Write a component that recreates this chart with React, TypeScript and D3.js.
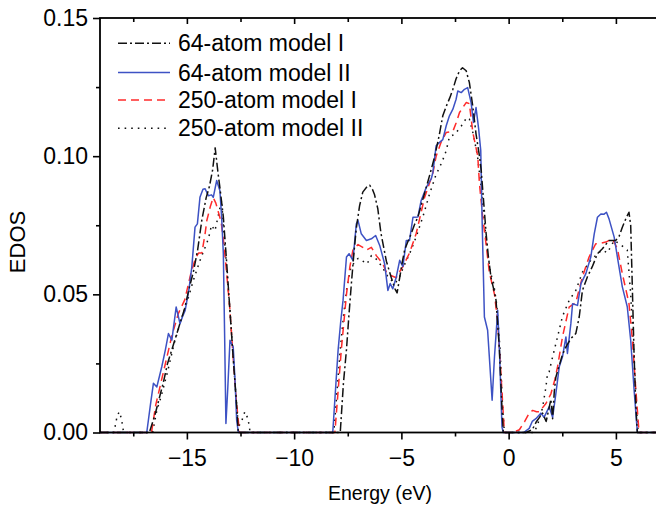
import React, { useEffect, useRef } from 'react';
import * as d3 from 'd3';

// energies in eV, EDOS values
const legendLabels = ['64-atom model I', '64-atom model II', '250-atom model I', '250-atom model II'];
const xMajorTicks = [-15, -10, -5, 0, 5];
const xMinorTicks = [-17.5, -12.5, -7.5, -2.5, 2.5];
const yMajorTicks = [0, 0.05, 0.1, 0.15];
const yMinorTicks = [0.025, 0.075, 0.125];

const model64I: [number, number][] = [
  [-19.05, 0], [-16.75, 0], [-16.5, 0.006], [-16.3, 0.012], [-16.1, 0.018], [-15.9, 0.025], [-15.7, 0.03],
  [-15.5, 0.035], [-15.3, 0.04], [-15.1, 0.045], [-14.9, 0.052], [-14.7, 0.058], [-14.5, 0.066], [-14.3, 0.077],
  [-14.1, 0.085], [-13.95, 0.089], [-13.8, 0.095], [-13.68, 0.103], [-13.55, 0.094], [-13.45, 0.088],
  [-13.3, 0.078], [-13.15, 0.062], [-13.0, 0.045], [-12.85, 0.028], [-12.7, 0.012], [-12.6, 0],
  [-7.85, 0], [-7.7, 0.018], [-7.56, 0.03], [-7.45, 0.042], [-7.33, 0.054], [-7.2, 0.066], [-7.1, 0.074],
  [-6.95, 0.082], [-6.8, 0.087], [-6.6, 0.089], [-6.48, 0.0895], [-6.35, 0.088], [-6.25, 0.086], [-6.1, 0.081],
  [-5.95, 0.072], [-5.8, 0.066], [-5.7, 0.062], [-5.47, 0.056], [-5.3, 0.052], [-5.2, 0.0505], [-5.08, 0.056],
  [-4.95, 0.062], [-4.85, 0.066], [-4.7, 0.069], [-4.54, 0.072], [-4.4, 0.075], [-4.23, 0.078], [-4.05, 0.083],
  [-3.84, 0.0887], [-3.65, 0.094], [-3.46, 0.0995], [-3.25, 0.107], [-3.07, 0.1146], [-2.91, 0.118],
  [-2.75, 0.121], [-2.6, 0.1242], [-2.45, 0.128], [-2.29, 0.1309], [-2.15, 0.132], [-1.98, 0.1309],
  [-1.83, 0.1266], [-1.67, 0.118], [-1.52, 0.108], [-1.36, 0.1], [-1.28, 0.095], [-1.15, 0.082], [-1.05, 0.072],
  [-0.95, 0.064], [-0.82, 0.056], [-0.7, 0.052], [-0.59, 0.048], [-0.5, 0.038], [-0.43, 0.03], [-0.33, 0.012],
  [-0.25, 0], [0.8, 0], [1.1, 0.001], [1.3, 0.004], [1.58, 0.007], [1.75, 0.004], [1.97, 0.012], [2.05, 0.005],
  [2.13, 0.015], [2.2, 0.02], [2.35, 0.024], [2.5, 0.028], [2.67, 0.031], [2.9, 0.034], [3.13, 0.0358],
  [3.29, 0.0418], [3.44, 0.0514], [3.67, 0.0563], [3.9, 0.06], [4.14, 0.0647], [4.37, 0.0665], [4.68, 0.0695],
  [4.99, 0.0695], [5.15, 0.071], [5.3, 0.0743], [5.5, 0.078], [5.61, 0.0797], [5.69, 0.075], [5.77, 0.0514],
  [5.85, 0.0274], [5.93, 0.0093], [6.0, 0], [7, 0],
];

const model64II: [number, number][] = [
  [-19.05, 0], [-16.87, 0], [-16.7, 0.01], [-16.56, 0.0178], [-16.4, 0.0165], [-16.17, 0.0238], [-16.0, 0.03],
  [-15.86, 0.0358], [-15.7, 0.0334], [-15.5, 0.0454], [-15.32, 0.0394], [-15.2, 0.042], [-15.08, 0.0442],
  [-14.9, 0.052], [-14.77, 0.0599], [-14.62, 0.0743], [-14.51, 0.0755], [-14.39, 0.0851], [-14.25, 0.088],
  [-14.15, 0.0882], [-14.0, 0.0857], [-13.85, 0.086], [-13.77, 0.0851], [-13.61, 0.0912], [-13.46, 0.0875],
  [-13.38, 0.078], [-13.3, 0.0647], [-13.24, 0.035], [-13.18, 0.0033], [-13.1, 0.015], [-12.99, 0.0334],
  [-12.84, 0.031], [-12.75, 0.018], [-12.68, 0.0045], [-12.6, 0],
  [-8.2, 0], [-8.05, 0.018], [-7.95, 0.0298], [-7.83, 0.04], [-7.72, 0.0478], [-7.56, 0.0635], [-7.44, 0.0647],
  [-7.26, 0.0623], [-7.1, 0.0755], [-7.02, 0.0767], [-6.87, 0.0719], [-6.63, 0.0695], [-6.4, 0.0701],
  [-6.2, 0.0713], [-6.01, 0.0677], [-5.78, 0.061], [-5.63, 0.0514], [-5.52, 0.0539], [-5.4, 0.052],
  [-5.24, 0.0562], [-5.08, 0.0623], [-4.93, 0.06], [-4.77, 0.0695], [-4.62, 0.0695], [-4.46, 0.0779],
  [-4.23, 0.078], [-4.08, 0.0839], [-3.84, 0.0887], [-3.6, 0.092], [-3.53, 0.0942], [-3.38, 0.1038],
  [-3.22, 0.105], [-3.07, 0.106], [-2.91, 0.111], [-2.76, 0.1146], [-2.6, 0.117], [-2.45, 0.1206],
  [-2.37, 0.1236], [-2.21, 0.123], [-2.06, 0.1242], [-1.91, 0.1248], [-1.75, 0.1194], [-1.64, 0.1122],
  [-1.52, 0.1176], [-1.4, 0.11], [-1.3, 0.102], [-1.24, 0.0779], [-1.13, 0.0418], [-0.98, 0.037],
  [-0.77, 0.0117], [-0.66, 0.0274], [-0.51, 0.0442], [-0.43, 0.03], [-0.31, 0.002], [-0.25, 0],
  [0.7, 0], [0.96, 0.0015], [1.1, 0.004], [1.27, 0.005], [1.5, 0.007], [1.65, 0.0055], [1.89, 0.0093],
  [2.05, 0.0055], [2.2, 0.014], [2.36, 0.0238], [2.51, 0.0274], [2.67, 0.0346], [2.74, 0.0286], [2.9, 0.0394],
  [2.98, 0.0466], [3.21, 0.046], [3.37, 0.0539], [3.6, 0.0575], [3.83, 0.0635], [3.99, 0.0719], [4.14, 0.0779],
  [4.3, 0.0791], [4.45, 0.079], [4.56, 0.0797], [4.68, 0.0773], [4.92, 0.0707], [5.07, 0.0635], [5.3, 0.0527],
  [5.53, 0.0455], [5.69, 0.0334], [5.85, 0.0153], [6.0, 0], [7, 0],
];

const model250I: [number, number][] = [
  [-19.05, 0], [-16.65, 0], [-16.45, 0.01], [-16.3, 0.015], [-16.0, 0.025], [-15.7, 0.035], [-15.4, 0.043],
  [-15.1, 0.048], [-14.8, 0.058], [-14.6, 0.063], [-14.45, 0.065], [-14.3, 0.065], [-14.15, 0.072],
  [-14.07, 0.0767], [-13.9, 0.082], [-13.77, 0.085], [-13.65, 0.083], [-13.54, 0.08], [-13.4, 0.076],
  [-13.3, 0.07], [-13.15, 0.058], [-13.0, 0.045], [-12.85, 0.028], [-12.7, 0.012], [-12.55, 0],
  [-8.1, 0], [-7.95, 0.015], [-7.8, 0.03], [-7.68, 0.04], [-7.56, 0.05], [-7.4, 0.06], [-7.26, 0.066],
  [-7.02, 0.068], [-6.8, 0.067], [-6.63, 0.066], [-6.4, 0.067], [-6.17, 0.064], [-5.86, 0.061], [-5.7, 0.058],
  [-5.55, 0.057], [-5.24, 0.056], [-5.1, 0.058], [-4.93, 0.06], [-4.62, 0.065], [-4.31, 0.072], [-4.1, 0.079],
  [-3.92, 0.085], [-3.7, 0.09], [-3.53, 0.094], [-3.38, 0.1], [-3.15, 0.105], [-2.91, 0.1086], [-2.6, 0.109],
  [-2.45, 0.112], [-2.29, 0.1158], [-2.1, 0.118], [-1.98, 0.1194], [-1.83, 0.119], [-1.67, 0.1086],
  [-1.44, 0.1], [-1.36, 0.09], [-1.21, 0.078], [-1.05, 0.068], [-0.9, 0.058], [-0.66, 0.05], [-0.51, 0.04],
  [-0.35, 0.02], [-0.2, 0], [0.2, 0], [0.5, 0.001], [0.75, 0.004], [0.96, 0.007], [1.12, 0.008], [1.3, 0.0075],
  [1.43, 0.0075], [1.74, 0.0105], [1.97, 0.014], [2.15, 0.019], [2.28, 0.0238], [2.51, 0.0346], [2.82, 0.0454],
  [3.13, 0.047], [3.44, 0.0563], [3.75, 0.0635], [4.06, 0.0683], [4.3, 0.0685], [4.53, 0.0689], [4.84, 0.0701],
  [5.07, 0.0665], [5.3, 0.0575], [5.61, 0.0467], [5.77, 0.0334], [5.93, 0.0153], [6.08, 0], [7, 0],
];

const model250II: [number, number][] = [
  [-19.05, 0], [-18.4, 0], [-18.25, 0.006], [-18.15, 0.0075], [-18.05, 0.005], [-17.95, 0],
  [-16.6, 0], [-16.4, 0.008], [-16.2, 0.013], [-15.9, 0.022], [-15.6, 0.032], [-15.3, 0.04], [-15.0, 0.047],
  [-14.7, 0.055], [-14.4, 0.062], [-14.2, 0.066], [-14.0, 0.07], [-13.85, 0.075], [-13.69, 0.073],
  [-13.55, 0.078], [-13.38, 0.084], [-13.3, 0.075], [-13.15, 0.06], [-13.0, 0.045], [-12.85, 0.028],
  [-12.7, 0.012], [-12.6, 0.002], [-12.45, 0.004], [-12.3, 0.0075], [-12.15, 0.005], [-12.05, 0],
  [-8.15, 0], [-8.0, 0.015], [-7.85, 0.03], [-7.7, 0.042], [-7.55, 0.052], [-7.35, 0.06], [-7.02, 0.063],
  [-6.8, 0.062], [-6.6, 0.061], [-6.4, 0.064], [-6.2, 0.063], [-5.9, 0.06], [-5.6, 0.056], [-5.3, 0.054],
  [-5.1, 0.056], [-4.9, 0.06], [-4.6, 0.065], [-4.3, 0.071], [-4.0, 0.078], [-3.7, 0.086], [-3.4, 0.093],
  [-3.1, 0.098], [-2.91, 0.102], [-2.76, 0.107], [-2.5, 0.108], [-2.2, 0.111], [-1.95, 0.114], [-1.83, 0.1134],
  [-1.65, 0.108], [-1.45, 0.1], [-1.3, 0.09], [-1.15, 0.078], [-1.0, 0.066], [-0.85, 0.058], [-0.7, 0.054],
  [-0.55, 0.046], [-0.4, 0.03], [-0.3, 0.012], [-0.2, 0],
  [1.2, 0], [1.4, 0.004], [1.58, 0.009], [1.74, 0.0165], [1.81, 0.0214], [1.89, 0.022], [2.05, 0.0274],
  [2.28, 0.0346], [2.51, 0.042], [2.82, 0.0478], [3.13, 0.0514], [3.44, 0.058], [3.83, 0.0623], [4.14, 0.0647],
  [4.37, 0.066], [4.6, 0.065], [4.92, 0.0695], [5.22, 0.068], [5.53, 0.066], [5.69, 0.05], [5.85, 0.027],
  [6.0, 0.003], [6.05, 0], [7, 0],
];

const FONT = '"Liberation Sans", Arial, sans-serif';

export default function App() {
  const ref = useRef<SVGSVGElement>(null);

  useEffect(() => {
    const svg = d3.select(ref.current);
    svg.selectAll('*').remove();

    const left = 100, top = 18, bottom = 432.5, right = 658.8;

    const x = d3.scaleLinear().domain([-19.05, 7]).range([left, right]);
    const y = d3.scaleLinear().domain([0, 0.15]).range([bottom, top]);

    const styles = [
      { data: model64I, color: '#111', dash: '9,3,2,3' },
      { data: model64II, color: '#3d52c4', dash: null },
      { data: model250I, color: '#ff2a2a', dash: '8,5' },
      { data: model250II, color: '#111', dash: '1.6,5' },
    ];

    const line = d3.line<[number, number]>()
      .x(d => x(d[0]))
      .y(d => y(d[1]));

    const g = svg.append('g');

    // draw in reverse so the 64-atom curves sit on top
    styles.slice().reverse().forEach(s => {
      g.append('path')
        .attr('d', line(s.data))
        .attr('fill', 'none')
        .attr('stroke', s.color)
        .attr('stroke-width', 1.5)
        .attr('stroke-dasharray', s.dash)
        .attr('stroke-linejoin', 'round');
    });

    const axisStyle = (sel: any) => {
      sel.select('.domain').remove();
      sel.selectAll('line').attr('stroke', '#000').attr('stroke-width', 1.6);
      sel.selectAll('text').style('font-family', FONT).style('font-size', '23px').attr('fill', '#000');
    };

    svg.append('g').attr('transform', `translate(0,${bottom})`)
      .call(d3.axisBottom(x).tickValues(xMajorTicks).tickSize(7).tickPadding(10).tickFormat(d3.format('d')))
      .call(axisStyle);
    svg.append('g').attr('transform', `translate(0,${bottom})`)
      .call(d3.axisBottom(x).tickValues(xMinorTicks).tickSize(4).tickFormat(() => ''))
      .call(axisStyle);
    svg.append('g').attr('transform', `translate(0,${top})`)
      .call(d3.axisBottom(x).tickValues(xMajorTicks).tickSize(6).tickFormat(() => ''))
      .call(axisStyle);
    svg.append('g').attr('transform', `translate(0,${top})`)
      .call(d3.axisBottom(x).tickValues(xMinorTicks).tickSize(4).tickFormat(() => ''))
      .call(axisStyle);
    svg.append('g').attr('transform', `translate(${left},0)`)
      .call(d3.axisLeft(y).tickValues(yMajorTicks).tickSize(7).tickPadding(5).tickFormat(d3.format('.2f')))
      .call(axisStyle);
    svg.append('g').attr('transform', `translate(${left},0)`)
      .call(d3.axisLeft(y).tickValues(yMinorTicks).tickSize(4).tickFormat(() => ''))
      .call(axisStyle);

    // frame
    svg.append('rect')
      .attr('x', left).attr('y', top)
      .attr('width', right - left).attr('height', bottom - top)
      .attr('fill', 'none').attr('stroke', '#000').attr('stroke-width', 1.8);

    svg.append('text')
      .attr('x', 380).attr('y', 500)
      .attr('text-anchor', 'middle')
      .style('font-family', FONT).style('font-size', '19.5px')
      .text('Energy (eV)');

    svg.append('text')
      .attr('transform', 'translate(17.5,242) rotate(-90)')
      .attr('text-anchor', 'middle')
      .attr('dominant-baseline', 'central')
      .style('font-family', FONT).style('font-size', '22px')
      .text('EDOS');

    const legend = svg.append('g');
    const rowY = [43.3, 72.5, 100, 128.3];
    styles.forEach((s, i) => {
      legend.append('line')
        .attr('x1', 118).attr('x2', 170)
        .attr('y1', rowY[i]).attr('y2', rowY[i])
        .attr('stroke', s.color)
        .attr('stroke-width', 1.5)
        .attr('stroke-dasharray', s.dash);
      legend.append('text')
        .attr('x', 178).attr('y', rowY[i])
        .attr('dominant-baseline', 'central')
        .style('font-family', FONT).style('font-size', '23px')
        .text(legendLabels[i]);
    });
  }, []);

  return (
    <svg ref={ref} width={656} height={507}
      style={{ position: 'absolute', left: 0, top: 0, background: '#fff' }} />
  );
}
